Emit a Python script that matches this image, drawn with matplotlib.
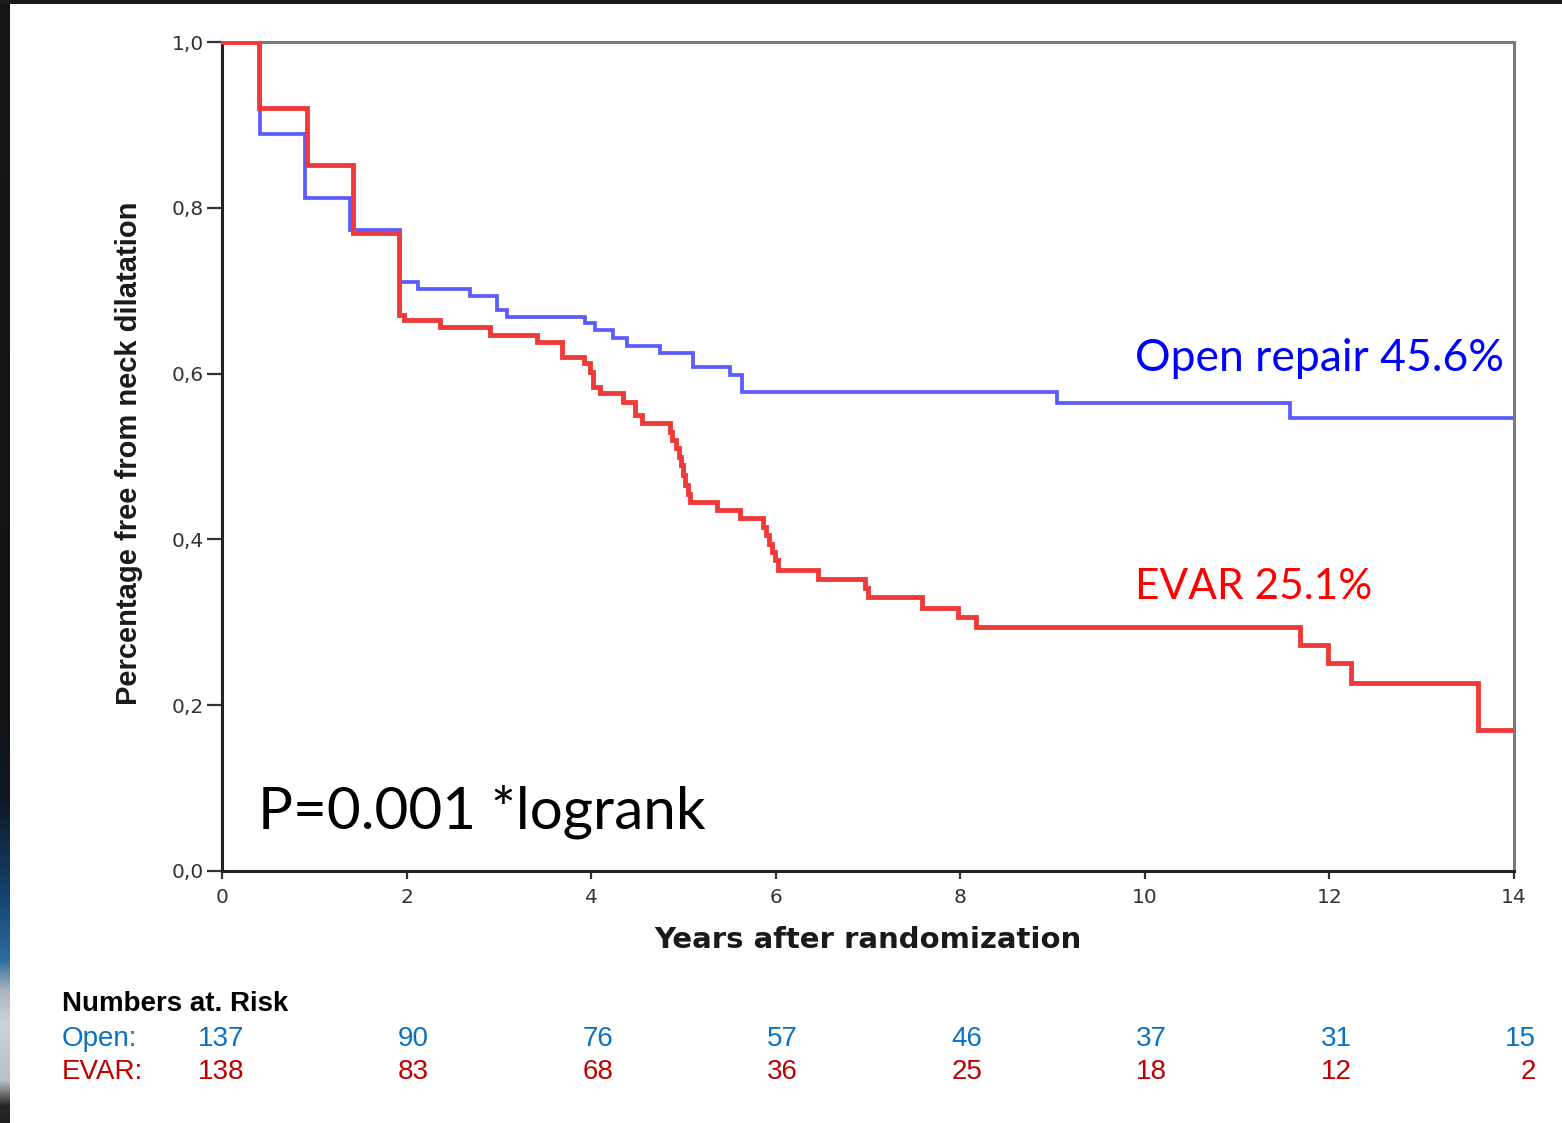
import numpy as np
import matplotlib
matplotlib.use("Agg")
import matplotlib.pyplot as plt
import matplotlib.transforms as mtransforms
from matplotlib.patches import Rectangle

# Kaplan-Meier estimates: freedom from neck dilatation
open_t = [0, 0.41, 0.90, 1.39, 1.93, 2.12, 2.69, 2.98, 3.09, 3.93, 4.04, 4.24,
          4.39, 4.75, 5.10, 5.50, 5.64, 9.05, 11.57, 14.0]
open_s = [1.0, 0.889, 0.812, 0.773, 0.711, 0.702, 0.694, 0.677, 0.668, 0.661, 0.653, 0.643,
          0.633, 0.625, 0.608, 0.598, 0.578, 0.565, 0.547, 0.547]

evar_t = [0, 0.40, 0.92, 1.42, 1.92, 1.97, 2.36, 2.90, 3.41, 3.68, 3.92, 3.99, 4.02,
          4.10, 4.35, 4.47, 4.55, 4.85, 4.88, 4.92, 4.95, 4.97, 5.00, 5.02, 5.05,
          5.07, 5.36, 5.61, 5.86, 5.89, 5.93, 5.96, 5.99, 6.02, 6.46, 6.97, 7.00,
          7.58, 7.97, 8.17, 11.68, 11.98, 12.23, 13.61, 14.0]
evar_s = [1.0, 0.920, 0.852, 0.770, 0.671, 0.665, 0.656, 0.647, 0.638, 0.620, 0.613, 0.602, 0.584,
          0.577, 0.566, 0.550, 0.540, 0.530, 0.520, 0.510, 0.500, 0.490, 0.478, 0.466, 0.455,
          0.445, 0.435, 0.426, 0.415, 0.405, 0.395, 0.385, 0.375, 0.363, 0.352, 0.341, 0.330,
          0.317, 0.306, 0.294, 0.273, 0.251, 0.227, 0.170, 0.170]

# Numbers at risk table
risk_years = [0, 2, 4, 6, 8, 10, 12, 14]
risk_open = [137, 90, 76, 57, 46, 37, 31, 15]
risk_evar = [138, 83, 68, 36, 25, 18, 12, 2]

x_ticks = [0, 2, 4, 6, 8, 10, 12, 14]
y_ticks = [0.0, 0.2, 0.4, 0.6, 0.8, 1.0]
y_ticklabels = ["0,0", "0,2", "0,4", "0,6", "0,8", "1,0"]

W, H, DPI = 1562, 1123, 100
fig = plt.figure(figsize=(W / DPI, H / DPI), dpi=DPI, facecolor="white")

# slide edge strip on the left (colour stops by pixel row from the top)
stop_rows = [0, 700, 800, 900, 960, 990, 1020, 1080, 1105, 1123]
stop_cols = np.array([
    [22, 22, 22], [18, 18, 18], [14, 24, 36], [20, 70, 115], [45, 110, 160],
    [170, 180, 190], [205, 210, 215], [185, 192, 198], [40, 40, 40], [30, 30, 30],
], dtype=float) / 255.0
rows = np.arange(H)
grad = np.stack([np.interp(rows, stop_rows, stop_cols[:, c]) for c in range(3)], axis=1)
strip = fig.add_axes([0, 0, 10 / W, 1])
strip.imshow(grad[:, None, :], aspect="auto", interpolation="bilinear",
             extent=[0, 1, 0, 1])
strip.set_axis_off()
fig.patches.append(Rectangle((0, 1 - 4 / H), 1, 4 / H, transform=fig.transFigure,
                             facecolor="#1b1b1b", edgecolor="none", zorder=5))

ax = fig.add_axes([222 / W, 1 - 871 / H, (1514 - 222) / W, (871 - 42) / H])
ax.set_xlim(0, 14)
ax.set_ylim(0, 1.0)

ax.step(open_t, open_s, where="post", color="#5b5bff", lw=2.7, zorder=3,
        solid_joinstyle="miter")
ax.step(evar_t, evar_s, where="post", color="#f03a3a", lw=3.5, zorder=4,
        solid_joinstyle="miter")

for side in ["left", "bottom"]:
    ax.spines[side].set_color("#222222")
    ax.spines[side].set_linewidth(2.2)
for side in ["top", "right"]:
    ax.spines[side].set_color("#7a7a7a")
    ax.spines[side].set_linewidth(2.2)

ax.set_xticks(x_ticks)
ax.set_xticklabels([str(v) for v in x_ticks])
ax.set_yticks(y_ticks)
ax.set_yticklabels(y_ticklabels)
ax.tick_params(axis="y", length=11, width=1.6, color="#333333",
               labelsize=14.5, labelcolor="#333333", pad=2)
ax.tick_params(axis="x", length=6, width=1.6, color="#333333",
               labelsize=14.5, labelcolor="#333333", pad=6)

fig.text(868 / W, 1 - 940 / H, "Years after randomization", ha="center", va="center",
         fontsize=21, fontweight="bold", color="#1a1a1a", family="DejaVu Sans")
fig.text(129 / W, 1 - 453 / H, "Percentage free from neck dilatation", rotation=90,
         ha="center", va="center", fontsize=21, fontweight="bold", color="#1a1a1a",
         family="Liberation Sans")

ax.text(9.89, 0.618, "Open repair 45.6%", color="#0000ff", fontsize=32,
        family="Lato", ha="left", va="center")
ax.text(9.89, 0.342, "EVAR 25.1%", color="#ff0000", fontsize=30.5,
        family="Lato", ha="left", va="center")
ax.text(0.39, 0.072, "P=0.001 *logrank", color="black", fontsize=42,
        family="Lato", ha="left", va="center")

# numbers at risk
fig.text(62 / W, 1 - 1004 / H, "Numbers at. Risk", fontsize=20, fontweight="bold",
         family="Liberation Sans", ha="left", va="center", color="black")
fig.text(62 / W, 1 - 1039 / H, "Open:", fontsize=20, family="Liberation Sans",
         ha="left", va="center", color="#0a72c4")
fig.text(62 / W, 1 - 1072 / H, "EVAR:", fontsize=20, family="Liberation Sans",
         ha="left", va="center", color="#c00000")
offset = mtransforms.ScaledTranslation(22 / DPI, 0, fig.dpi_scale_trans)
trans = mtransforms.blended_transform_factory(ax.transData, fig.transFigure) + offset
for yr, n_o, n_e in zip(risk_years, risk_open, risk_evar):
    fig.text(yr, 1 - 1039 / H, str(n_o), transform=trans, fontsize=20,
             family="Liberation Sans", ha="right", va="center", color="#0a72c4")
    fig.text(yr, 1 - 1072 / H, str(n_e), transform=trans, fontsize=20,
             family="Liberation Sans", ha="right", va="center", color="#c00000")

fig.savefig("out.png", dpi=DPI, facecolor="white")
